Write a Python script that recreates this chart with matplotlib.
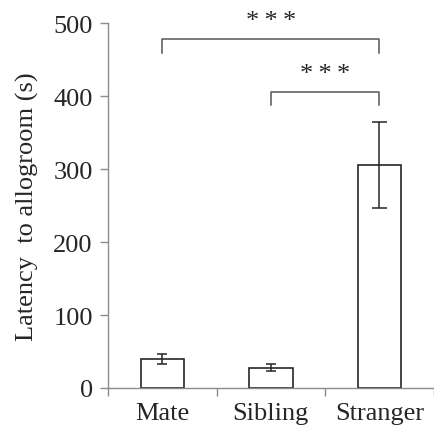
import numpy as np
import matplotlib
matplotlib.use("Agg")
import matplotlib.pyplot as plt

# values
groups = ["Mate", "Sibling", "Stranger"]
latency = [40, 28, 306]
latency_err = [7, 5, 59]
yticks = [0, 100, 200, 300, 400, 500]

# significance brackets: (left group, right group, bracket height, label)
brackets = [(0, 2, 478, "*\u2009*\u2009*"), (1, 2, 406, "*\u2009*\u2009*")]
bracket_drop = 18

AXIS_GREY = "#8c8c8c"
INK = "#262626"
CAP_SIZES = [3.8, 3.8, 5.4]


def draw_bracket(ax, x0, x1, y, label):
    ax.plot([x0, x0, x1, x1], [y - bracket_drop, y, y, y - bracket_drop],
            color="#555555", lw=1.1, clip_on=False)
    ax.annotate(label, xy=((x0 + x1) / 2, y), xytext=(0, 5),
                textcoords="offset points", ha="center", va="bottom",
                fontsize=19, color=INK, annotation_clip=False)


def main():
    plt.rcParams["font.family"] = ["Liberation Serif", "DejaVu Serif"]

    fig = plt.figure(figsize=(4.34, 4.31), dpi=100)
    ax = fig.add_axes([0.249, 0.0975, 0.75, 0.846])

    x = np.arange(len(groups))
    ax.bar(x, latency, width=0.4, color="white", edgecolor=INK, linewidth=1.2)
    for xi, m, e, cs in zip(x, latency, latency_err, CAP_SIZES):
        ax.errorbar(xi, m, yerr=e, fmt="none", ecolor=INK,
                    elinewidth=1.1, capsize=cs, capthick=1.1)

    for x0, x1, y, label in brackets:
        draw_bracket(ax, x0, x1, y, label)

    ax.set_xlim(-0.5, 2.5)
    ax.set_ylim(0, 500)
    ax.set_yticks(yticks)
    ax.set_xticks(x)
    ax.set_xticklabels(groups)
    ax.set_xticks(np.arange(-0.5, 3.0, 1.0), minor=True)
    ax.tick_params(axis="x", which="major", length=0, pad=10, labelsize=19,
                   labelcolor=INK)
    ax.tick_params(axis="x", which="minor", length=6, width=1, color=AXIS_GREY,
                   direction="out")
    ax.tick_params(axis="y", length=6, width=1, color=AXIS_GREY, pad=5,
                   labelsize=19, labelcolor=INK)
    ax.set_ylabel("Latency  to allogroom (s)", fontsize=19, labelpad=10,
                  color=INK)

    for side in ("top", "right"):
        ax.spines[side].set_visible(False)
    for side in ("left", "bottom"):
        ax.spines[side].set_color(AXIS_GREY)
        ax.spines[side].set_linewidth(1)

    fig.savefig("out.png", dpi=100)


if __name__ == "__main__":
    main()
